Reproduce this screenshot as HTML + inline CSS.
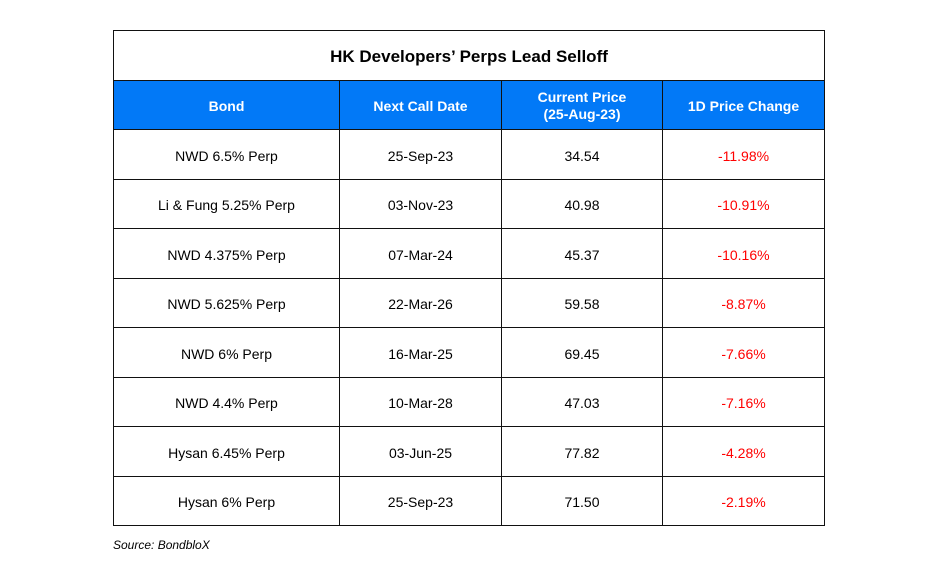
<!DOCTYPE html>
<html><head><style>
body{margin:0;width:940px;height:568px;background:#fff;position:relative;font-family:"Liberation Sans",Arial,sans-serif;}
table{position:absolute;left:113px;top:30px;border-collapse:collapse;width:711px;table-layout:fixed;}
td{border:1.5px solid #111;text-align:center;font-size:14px;color:#000;padding:3px 0 0 0;height:45.5px;}
td.t{font-weight:bold;font-size:17px;}
tr.h td{background:#0279f7;color:#fff;font-weight:bold;font-size:14px;line-height:17px;}
.r{color:#f00;}
.src{position:absolute;left:113px;top:538px;font-size:12px;font-style:italic;}
</style></head><body>
<table>
<colgroup><col style="width:226px"><col style="width:162px"><col style="width:161px"><col style="width:162px"></colgroup>
<tr><td class="t" colspan="4">HK Developers’ Perps Lead Selloff</td></tr>
<tr class="h"><td>Bond</td><td>Next Call Date</td><td>Current Price<br>(25-Aug-23)</td><td>1D Price Change</td></tr>
<tr><td>NWD 6.5% Perp</td><td>25-Sep-23</td><td>34.54</td><td class="r">-11.98%</td></tr>
<tr><td>Li &amp; Fung 5.25% Perp</td><td>03-Nov-23</td><td>40.98</td><td class="r">-10.91%</td></tr>
<tr><td>NWD 4.375% Perp</td><td>07-Mar-24</td><td>45.37</td><td class="r">-10.16%</td></tr>
<tr><td>NWD 5.625% Perp</td><td>22-Mar-26</td><td>59.58</td><td class="r">-8.87%</td></tr>
<tr><td>NWD 6% Perp</td><td>16-Mar-25</td><td>69.45</td><td class="r">-7.66%</td></tr>
<tr><td>NWD 4.4% Perp</td><td>10-Mar-28</td><td>47.03</td><td class="r">-7.16%</td></tr>
<tr><td>Hysan 6.45% Perp</td><td>03-Jun-25</td><td>77.82</td><td class="r">-4.28%</td></tr>
<tr><td>Hysan 6% Perp</td><td>25-Sep-23</td><td>71.50</td><td class="r">-2.19%</td></tr>
</table>
<div class="src">Source: BondbloX</div>
</body></html>
